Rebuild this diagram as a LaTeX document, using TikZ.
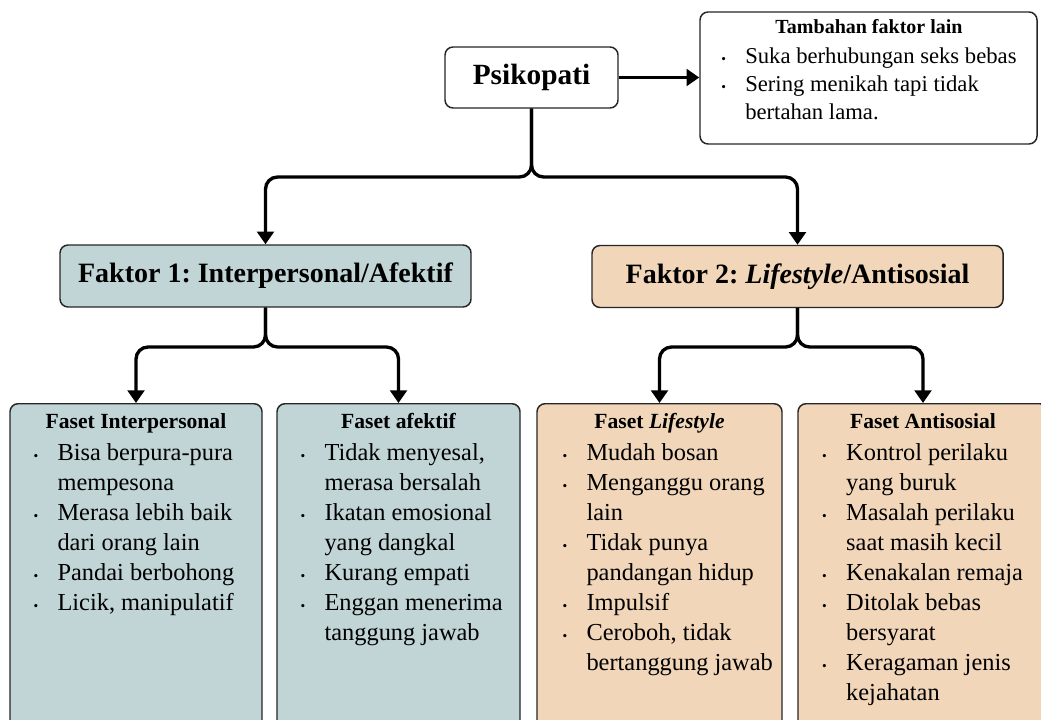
\documentclass[tikz,border=0pt]{standalone}
\usepackage{fontspec}
\setmainfont{Liberation Serif}
\usepackage{tikz}
\usetikzlibrary{arrows.meta}
\frenchspacing

\definecolor{faktorblue}{RGB}{193,213,215}
\definecolor{faktortan}{RGB}{241,214,186}
\newcommand{\bul}{\makebox[18pt][l]{\fontsize{10}{10}\selectfont\textbullet}}
\newcommand{\nobul}{\hspace*{18pt}}

\begin{document}
\begin{tikzpicture}[x=0.75pt,y=-0.75pt,
    box/.style={draw=black!85, line width=1.1pt, rounded corners=6pt, inner sep=0pt},
    link/.style={line width=2.5pt, rounded corners=9pt, -{Triangle[width=12.5pt,length=9.5pt]}},
    facettitle/.style={anchor=base, font=\bfseries\fontsize{16.2}{19}\selectfont},
    facetlist/.style={anchor=north west, inner sep=0pt, align=left, font=\fontsize{18.3}{22.5}\selectfont}]

        \useasboundingbox[fill=white] (0,0) rectangle (1041,720);

        % top
        \node[box, minimum width=129.75pt, minimum height=45.75pt, font=\bfseries\fontsize{22}{26}\selectfont] (psi) at (531.5,77.5) {Psikopati};
        \node[box, minimum width=252.75pt, minimum height=99pt] (tambah) at (868.5,78) {};
        \node[anchor=base, font=\bfseries\fontsize{15}{18}\selectfont] (tambahtitle) at (869,34) {Tambahan faktor lain};
        \node[anchor=north west, inner sep=0pt, align=left, font=\fontsize{17}{21}\selectfont] (tambahlist) at (721,43.4)
            {\bul\strut Suka berhubungan seks bebas\\ \bul Sering menikah tapi tidak\\ \nobul bertahan lama.};

        % faktor
        \node[box, fill=faktorblue, minimum width=308.25pt, minimum height=46.5pt, font=\bfseries\fontsize{21}{25}\selectfont] (f1) at (265.5,276) {Faktor 1: Interpersonal/Afektif};
        \node[box, fill=faktortan, minimum width=308.25pt, minimum height=46.5pt, font=\bfseries\fontsize{21}{25}\selectfont] (f2) at (797.5,276.5) {Faktor 2: \textit{Lifestyle}/Antisosial};

        % faset
        \node[box, fill=faktorblue, anchor=north, minimum width=189pt, minimum height=252.75pt] (fi) at (136,403) {};
        \node[box, fill=faktorblue, anchor=north, minimum width=182.25pt, minimum height=252.75pt] (fa) at (398.5,403) {};
        \node[box, fill=faktortan, anchor=north, minimum width=183.75pt, minimum height=252.75pt] (fl) at (659.5,403) {};
        \node[box, fill=faktortan, anchor=north, minimum width=187.5pt, minimum height=252.75pt] (fan) at (923,403) {};

        \node[facettitle] (fititle) at (136,428) {Faset Interpersonal};
        \node[facettitle] (fatitle) at (398.5,428) {Faset afektif};
        \node[facettitle] (fltitle) at (659.5,428) {Faset \textit{Lifestyle}};
        \node[facettitle] (fantitle) at (923,428) {Faset Antisosial};

        \node[facetlist] (filist) at ([xshift=18pt,yshift=-27pt]fi.north west)
            {\bul\strut Bisa berpura-pura\\ \nobul mempesona\\ \bul Merasa lebih baik\\ \nobul dari orang lain\\ \bul Pandai berbohong\\ \bul Licik, manipulatif};
        \node[facetlist] (falist) at ([xshift=18pt,yshift=-27pt]fa.north west)
            {\bul\strut Tidak menyesal,\\ \nobul merasa bersalah\\ \bul Ikatan emosional\\ \nobul yang dangkal\\ \bul Kurang empati\\ \bul Enggan menerima\\ \nobul tanggung jawab};
        \node[facetlist] (fllist) at ([xshift=19.5pt,yshift=-27pt]fl.north west)
            {\bul\strut Mudah bosan\\ \bul Menganggu orang\\ \nobul lain\\ \bul Tidak punya\\ \nobul pandangan hidup\\ \bul Impulsif\\ \bul Ceroboh, tidak\\ \nobul bertanggung jawab};
        \node[facetlist] (fanlist) at ([xshift=18.5pt,yshift=-27pt]fan.north west)
            {\bul\strut Kontrol perilaku\\ \nobul yang buruk\\ \bul Masalah perilaku\\ \nobul saat masih kecil\\ \bul Kenakalan remaja\\ \bul Ditolak bebas\\ \nobul bersyarat\\ \bul Keragaman jenis\\ \nobul kejahatan};

        % connectors
        \coordinate (j1) at (531.5,177);
        \coordinate (j2) at (265.5,347);
        \coordinate (j3) at (797.5,347);

        \draw[link] (psi.east) -- (psi.east -| tambah.west);
        \draw[link] (psi.south) -- (j1) -| (f1.north);
        \draw[link] (psi.south) -- (j1) -| (f2.north);
        \draw[link] (f1.south) -- (j2) -| (fi.north);
        \draw[link] (f1.south) -- (j2) -| (fa.north);
        \draw[link] (f2.south) -- (j3) -| (fl.north);
        \draw[link] (f2.south) -- (j3) -| (fan.north);

\end{tikzpicture}
\end{document}
